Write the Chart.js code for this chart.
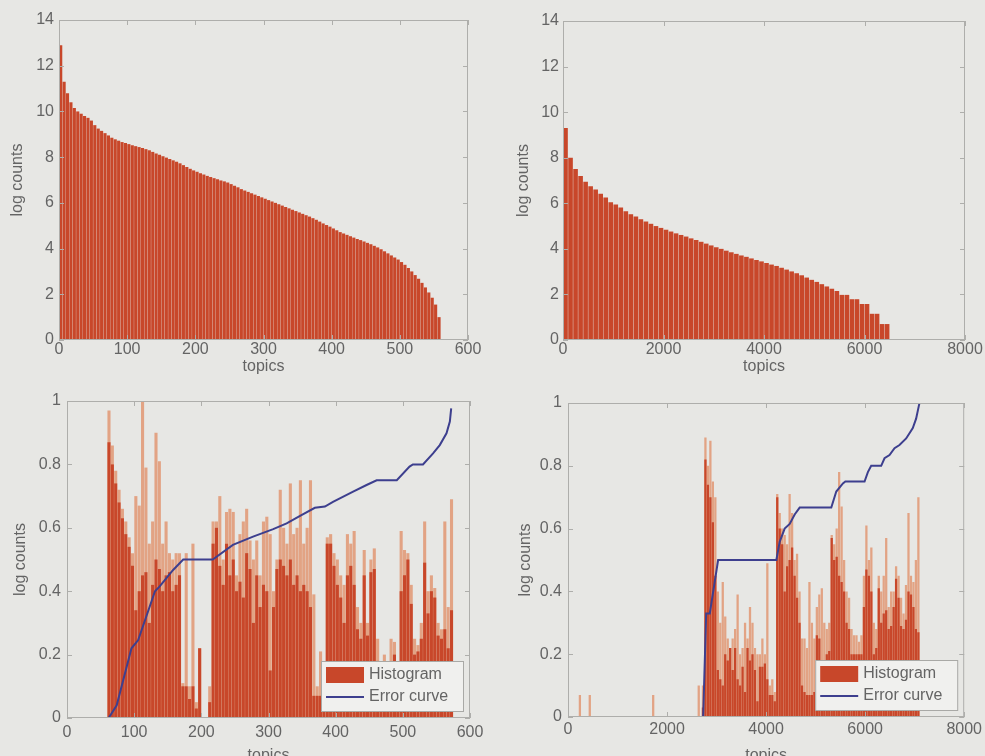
<!DOCTYPE html>
<html>
<head>
<meta charset="utf-8">
<script src="https://cdn.jsdelivr.net/npm/chart.js@4.4.1/dist/chart.umd.min.js"></script>
<style>
  body { margin: 0; background: #e7e7e4; }
  #wrap { position: relative; width: 985px; height: 756px; overflow: hidden; }
  .cell { position: absolute; }
</style>
</head>
<body>
<div id="wrap">
  <div class="cell" style="left:0;top:0"><canvas id="topLeft" width="490" height="380"></canvas></div>
  <div class="cell" style="left:490px;top:0"><canvas id="topRight" width="495" height="380"></canvas></div>
  <div class="cell" style="left:0;top:380px"><canvas id="bottomLeft" width="490" height="390"></canvas></div>
  <div class="cell" style="left:490px;top:380px"><canvas id="bottomRight" width="495" height="390"></canvas></div>
</div>
<script>
// --- data ---

// top left: sorted log counts, bins of 5 topics starting at 0
const tlBinStart = 0, tlBinWidth = 5;
const tlCounts = [
  12.9, 11.3, 10.8, 10.4, 10.15, 10.0, 9.9, 9.8, 9.72, 9.6,
  9.4, 9.25, 9.15, 9.05, 8.95, 8.85, 8.78, 8.72, 8.66, 8.62,
  8.57, 8.52, 8.48, 8.44, 8.40, 8.35, 8.30, 8.23, 8.16, 8.10,
  8.04, 7.98, 7.92, 7.86, 7.80, 7.73, 7.65, 7.57, 7.49, 7.42,
  7.36, 7.30, 7.24, 7.18, 7.13, 7.08, 7.03, 6.98, 6.94, 6.89,
  6.82, 6.75, 6.68, 6.60, 6.54, 6.48, 6.42, 6.36, 6.30, 6.24,
  6.18, 6.12, 6.06, 6.00, 5.94, 5.88, 5.82, 5.76, 5.70, 5.64,
  5.58, 5.52, 5.46, 5.40, 5.33, 5.26, 5.18, 5.10, 5.03, 4.96,
  4.88, 4.80, 4.72, 4.66, 4.60, 4.54, 4.48, 4.42, 4.37, 4.31,
  4.25, 4.19, 4.12, 4.05, 3.97, 3.88, 3.79, 3.70, 3.61, 3.52,
  3.41, 3.29, 3.15, 3.00, 2.84, 2.68, 2.50, 2.30, 2.08, 1.85,
  1.55, 1.00
];

// top right: sorted log counts, bins of 100 topics starting at 0
const trBinStart = 0, trBinWidth = 100;
const trCounts = [
  9.3, 8.0, 7.5, 7.2, 6.95, 6.75, 6.6, 6.42, 6.25, 6.05,
  5.95, 5.82, 5.65, 5.52, 5.42, 5.30, 5.2, 5.1, 5.0, 4.92,
  4.84, 4.76, 4.68, 4.61, 4.54, 4.46, 4.39, 4.31, 4.23, 4.15,
  4.07, 4.0, 3.92, 3.85, 3.78, 3.71, 3.65, 3.58, 3.51, 3.45,
  3.38, 3.31, 3.25, 3.17, 3.09, 3.01, 2.93, 2.84, 2.74, 2.64,
  2.55, 2.45, 2.35, 2.25, 2.15, 1.98, 1.98, 1.79, 1.79, 1.58,
  1.58, 1.15, 1.15, 0.70, 0.70
];

// bottom left: histogram (solid body + thin peaks), bins of 5 topics from 60
const blBinStart = 60, blBinWidth = 5;
const blBody = [
  0.87, 0.80, 0.74, 0.68, 0.63, 0.58, 0.54, 0.48, 0.34, 0.40,
  0.45, 0.46, 0.30, 0.42, 0.50, 0.47, 0.40, 0.45, 0.46, 0.40,
  0.42, 0.45, 0.10, 0.10, 0.06, 0.10, 0.03, 0.22, 0, 0,
  0.05, 0.55, 0.60, 0.48, 0.42, 0.55, 0.45, 0.50, 0.40, 0.43,
  0.38, 0.52, 0.47, 0.30, 0.45, 0.35, 0.42, 0.40, 0.15, 0.35,
  0.47, 0.50, 0.48, 0.45, 0.50, 0.42, 0.45, 0.40, 0.42, 0.40,
  0.35, 0.07, 0.07, 0.07, 0.07, 0.55, 0.55, 0.48, 0.42, 0.38,
  0.30, 0.45, 0.48, 0.42, 0.28, 0.25, 0.45, 0.26, 0.46, 0.47,
  0.18, 0.02, 0.03, 0.03, 0.05, 0.20, 0.02, 0.40, 0.45, 0.50,
  0.36, 0.20, 0.21, 0.25, 0.49, 0.33, 0.40, 0.38, 0.26, 0.25,
  0.28, 0.22, 0.34
];
const blPeak = [
  0.97, 0.86, 0.78, 0.72, 0.66, 0.62, 0.57, 0.52, 0.70, 0.67,
  1.00, 0.79, 0.55, 0.62, 0.90, 0.81, 0.55, 0.62, 0.52, 0.50,
  0.52, 0.52, 0.11, 0.52, 0.10, 0.55, 0.05, 0.22, 0, 0,
  0.10, 0.62, 0.62, 0.70, 0.50, 0.65, 0.66, 0.65, 0.45, 0.58,
  0.62, 0.66, 0.56, 0.50, 0.56, 0.45, 0.62, 0.635, 0.58, 0.40,
  0.50, 0.72, 0.60, 0.55, 0.74, 0.58, 0.60, 0.75, 0.55, 0.60,
  0.75, 0.39, 0.10, 0.21, 0.08, 0.57, 0.58, 0.52, 0.50, 0.45,
  0.42, 0.58, 0.55, 0.59, 0.35, 0.30, 0.53, 0.30, 0.50, 0.535,
  0.25, 0.05, 0.20, 0.06, 0.25, 0.24, 0.03, 0.59, 0.53, 0.52,
  0.42, 0.25, 0.23, 0.30, 0.62, 0.40, 0.45, 0.41, 0.30, 0.28,
  0.62, 0.35, 0.69
];
const blErrTopics = [0, 62, 74, 96, 106, 131, 138, 158, 173, 217, 247, 277, 307, 327, 349,
  369, 384, 396, 426, 446, 461, 491, 510, 515, 530, 545, 555, 565, 570, 572];
const blErr = [0, 0, 0.04, 0.22, 0.246, 0.40, 0.415, 0.467, 0.5, 0.5, 0.546, 0.572, 0.596, 0.614, 0.64,
  0.663, 0.667, 0.682, 0.714, 0.735, 0.75, 0.75, 0.793, 0.80, 0.80, 0.835, 0.861, 0.898, 0.935, 0.977];

// bottom right: histogram, bins of 50 topics from 2700, plus a few lone spikes
const brBinStart = 2700, brBinWidth = 50;
const brBody = [
  0.03, 0.82, 0.74, 0.70, 0.62, 0.45, 0.15, 0.12, 0.10, 0.20,
  0.18, 0.22, 0.15, 0.22, 0.12, 0.10, 0.16, 0.08, 0.22, 0.18,
  0.20, 0.15, 0.05, 0.16, 0.16, 0.17, 0.12, 0.07, 0.07, 0.05,
  0.70, 0.60, 0.55, 0.40, 0.48, 0.50, 0.54, 0.45, 0.38, 0.30,
  0.10, 0.08, 0.07, 0.07, 0.07, 0.08, 0.26, 0.25, 0.14, 0.14,
  0.20, 0.21, 0.57, 0.50, 0.51, 0.45, 0.43, 0.40, 0.30, 0.28,
  0.20, 0.20, 0.20, 0.20, 0.20, 0.35, 0.47, 0.45, 0.40, 0.20,
  0.22, 0.41, 0.30, 0.33, 0.34, 0.28, 0.29, 0.35, 0.44, 0.38,
  0.29, 0.28, 0.31, 0.40, 0.39, 0.35, 0.28, 0.27
];
const brPeak = [
  0.10, 0.89, 0.80, 0.88, 0.75, 0.70, 0.40, 0.30, 0.43, 0.32,
  0.25, 0.22, 0.25, 0.28, 0.39, 0.20, 0.22, 0.30, 0.25, 0.35,
  0.30, 0.22, 0.20, 0.20, 0.25, 0.20, 0.49, 0.10, 0.12, 0.08,
  0.71, 0.65, 0.60, 0.58, 0.55, 0.71, 0.65, 0.50, 0.52, 0.40,
  0.25, 0.25, 0.22, 0.43, 0.30, 0.25, 0.35, 0.39, 0.41, 0.30,
  0.28, 0.30, 0.58, 0.55, 0.60, 0.78, 0.67, 0.50, 0.40, 0.38,
  0.28, 0.26, 0.26, 0.24, 0.26, 0.45, 0.61, 0.50, 0.54, 0.30,
  0.28, 0.45, 0.40, 0.45, 0.57, 0.35, 0.40, 0.40, 0.48, 0.45,
  0.38, 0.33, 0.42, 0.65, 0.45, 0.43, 0.50, 0.70
];
const brSpikeTopics = [240, 440, 1720, 2640];
const brSpikes = [0.07, 0.07, 0.07, 0.10];
const brErrTopics = [0, 2729, 2790, 2863, 3031, 4207, 4274, 4375, 4476, 4577, 4678, 5316, 5417, 5551,
  5600, 5988, 6055, 6122, 6324, 6391, 6492, 6593, 6693, 6828, 6962, 7029, 7083, 7097];
const brErr = [0, 0, 0.33, 0.33, 0.5, 0.5, 0.558, 0.60, 0.615, 0.645, 0.667, 0.667, 0.718, 0.744,
  0.75, 0.75, 0.78, 0.80, 0.80, 0.824, 0.834, 0.856, 0.866, 0.887, 0.92, 0.95, 0.99, 1.0];

// --- styles ---
const BAR_DARK = '#c8472a';
const BAR_LIGHT = '#e2a384';
const CURVE_BLUE = '#3d3f8e';
const AXIS_GREY = '#aeaeab';
const TEXT_GREY = '#646464';

Chart.defaults.font.family = '"Liberation Sans", Arial, sans-serif';
Chart.defaults.font.size = 16;
Chart.defaults.color = TEXT_GREY;

// bin centres from the bin layout
function centres(start, width, values) {
  return values.map((_, i) => start + (i + 0.5) * width);
}
function points(xs, ys) {
  return xs.map((x, i) => ({ x: x, y: ys[i] }));
}

function bars(label, xs, ys, color, order, inLegend) {
  return {
    type: 'bar', label: label, data: points(xs, ys),
    backgroundColor: color, grouped: false,
    barPercentage: 0.92, categoryPercentage: 1,
    order: order, inLegend: inLegend
  };
}

function curve(label, xs, ys) {
  return {
    type: 'line', label: label, data: points(xs, ys),
    borderColor: CURVE_BLUE, borderWidth: 2, pointRadius: 0, tension: 0,
    order: 0, inLegend: true
  };
}

// matlab-like box with inward ticks
const axesBox = {
  id: 'axesBox',
  afterDatasetsDraw(chart) {
    const { ctx, chartArea: a, scales: { x, y } } = chart;
    ctx.save();
    ctx.strokeStyle = AXIS_GREY;
    ctx.lineWidth = 1;
    ctx.strokeRect(a.left + 0.5, a.top + 0.5, a.right - a.left - 1, a.bottom - a.top - 1);
    ctx.beginPath();
    x.ticks.forEach(t => {
      const px = Math.round(x.getPixelForValue(t.value)) + 0.5;
      ctx.moveTo(px, a.bottom); ctx.lineTo(px, a.bottom - 5);
      ctx.moveTo(px, a.top); ctx.lineTo(px, a.top + 5);
    });
    y.ticks.forEach(t => {
      const py = Math.round(y.getPixelForValue(t.value)) + 0.5;
      ctx.moveTo(a.left, py); ctx.lineTo(a.left + 5, py);
      ctx.moveTo(a.right, py); ctx.lineTo(a.right - 5, py);
    });
    ctx.stroke();
    ctx.restore();
  }
};

// legend drawn inside the axes, lower right
const legendBox = {
  id: 'legendBox',
  afterDraw(chart, args, opts) {
    if (!opts.show) return;
    const items = chart.data.datasets.filter(d => d.inLegend);
    const { ctx, chartArea: a } = chart;
    const w = 142, h = 50;
    const lx = a.right - 7 - w, ly = a.bottom - 7 - h;
    ctx.save();
    ctx.fillStyle = '#f0f0ee';
    ctx.fillRect(lx, ly, w, h);
    ctx.strokeStyle = '#a9a9a6';
    ctx.lineWidth = 1;
    ctx.strokeRect(lx + 0.5, ly + 0.5, w, h);
    ctx.font = '16px "Liberation Sans", Arial, sans-serif';
    ctx.textBaseline = 'middle';
    items.forEach((d, i) => {
      const cy = ly + 14 + i * 22;
      if (d.type === 'bar') {
        ctx.fillStyle = d.backgroundColor;
        ctx.fillRect(lx + 5, cy - 8, 38, 16);
      } else {
        ctx.strokeStyle = d.borderColor;
        ctx.lineWidth = 2;
        ctx.beginPath();
        ctx.moveTo(lx + 5, cy); ctx.lineTo(lx + 43, cy);
        ctx.stroke();
      }
      ctx.fillStyle = TEXT_GREY;
      ctx.fillText(d.label, lx + 48, cy);
    });
    ctx.restore();
  }
};

function makeChart(id, o) {
  return new Chart(document.getElementById(id), {
    type: 'bar',
    data: { datasets: o.datasets },
    options: {
      responsive: false,
      animation: false,
      events: [],
      layout: { padding: { top: o.top, right: o.right, left: 0, bottom: 0 } },
      plugins: {
        legend: { display: false },
        tooltip: { enabled: false },
        legendBox: { show: o.legend }
      },
      scales: {
        x: {
          type: 'linear', min: 0, max: o.xMax, offset: false,
          ticks: { stepSize: o.xStep, padding: o.xPad, maxRotation: 0, autoSkip: false,
                   callback: v => String(v) },
          grid: { display: false, drawTicks: false },
          border: { display: false },
          title: { display: true, text: 'topics', padding: { top: 0, bottom: o.xTitlePad } },
          afterFit: s => { s.height = o.xHeight; }
        },
        y: {
          min: 0, max: o.yMax,
          ticks: { stepSize: o.yStep, padding: o.yPad,
                   callback: v => String(Math.round(v * 10) / 10) },
          grid: { display: false, drawTicks: false },
          border: { display: false },
          title: { display: true, text: 'log counts', padding: { top: o.yTitlePad, bottom: 0 } },
          afterFit: s => { s.width = o.yWidth; }
        }
      }
    },
    plugins: [axesBox, legendBox]
  });
}

makeChart('topLeft', {
  datasets: [bars('Histogram', centres(tlBinStart, tlBinWidth, tlCounts), tlCounts, BAR_DARK, 1, false)],
  top: 20, right: 22, yWidth: 59, xHeight: 40,
  xMax: 600, xStep: 100, yMax: 14, yStep: 2,
  xPad: 0, yPad: 5, xTitlePad: 4, yTitlePad: 8, legend: false
});

makeChart('topRight', {
  datasets: [bars('Histogram', centres(trBinStart, trBinWidth, trCounts), trCounts, BAR_DARK, 1, false)],
  top: 21, right: 20, yWidth: 73, xHeight: 40,
  xMax: 8000, xStep: 2000, yMax: 14, yStep: 2,
  xPad: 0, yPad: 4, xTitlePad: 4, yTitlePad: 24, legend: false
});

makeChart('bottomLeft', {
  datasets: [
    bars('Histogram', centres(blBinStart, blBinWidth, blBody), blBody, BAR_DARK, 1, true),
    bars('Peaks', centres(blBinStart, blBinWidth, blPeak), blPeak, BAR_LIGHT, 2, false),
    curve('Error curve', blErrTopics, blErr)
  ],
  top: 21, right: 20, yWidth: 67, xHeight: 52,
  xMax: 600, xStep: 100, yMax: 1, yStep: 0.2,
  xPad: 5, yPad: 6, xTitlePad: 5, yTitlePad: 11, legend: true
});

makeChart('bottomRight', {
  datasets: [
    bars('Histogram', centres(brBinStart, brBinWidth, brBody), brBody, BAR_DARK, 1, true),
    bars('Peaks', centres(brBinStart, brBinWidth, brPeak), brPeak, BAR_LIGHT, 2, false),
    bars('Spikes', brSpikeTopics, brSpikes, BAR_LIGHT, 3, false),
    curve('Error curve', brErrTopics, brErr)
  ],
  top: 23, right: 20, yWidth: 78, xHeight: 53,
  xMax: 8000, xStep: 2000, yMax: 1, yStep: 0.2,
  xPad: 3, yPad: 6, xTitlePad: 5, yTitlePad: 26, legend: true
});
</script>
</body>
</html>
